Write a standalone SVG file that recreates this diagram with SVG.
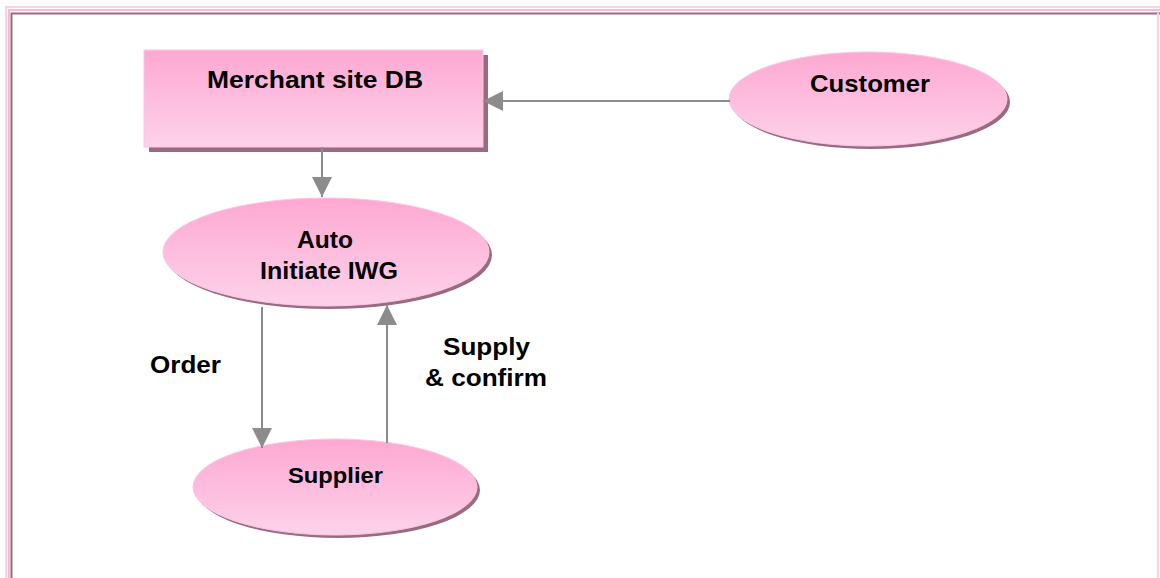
<svg xmlns="http://www.w3.org/2000/svg" width="1160" height="578" viewBox="0 0 1160 578">
<defs>
<linearGradient id="pk" x1="0" y1="0" x2="0" y2="1">
<stop offset="0" stop-color="#fda8d2"/>
<stop offset="1" stop-color="#fdd2ea"/>
</linearGradient>
<marker id="ah" markerWidth="20" markerHeight="20" refX="20" refY="10" orient="auto" markerUnits="userSpaceOnUse">
<path d="M0,0 L20,10 L0,20 Z" fill="#8c8c8c"/>
</marker>
<style>
.sh{fill:#9a6b80}
.nd{fill:url(#pk);stroke:#fcc6e0;stroke-width:1}
.lbl{font-family:"Liberation Sans",Arial,sans-serif;font-weight:bold;font-size:24px;fill:#000;text-anchor:middle}
.con{stroke:#8c8c8c;stroke-width:2;fill:none;marker-end:url(#ah)}
</style>
</defs>
<rect width="1160" height="578" fill="#ffffff"/>
<g id="frame">
<path d="M6,578 V7 H1160" fill="none" stroke="#fdd0e6" stroke-width="2"/>
<path d="M9,578 V10 H1160" fill="none" stroke="#fbb8d8" stroke-width="2"/>
<path d="M11.5,578 V13.5 H1160" fill="none" stroke="#9a6b80" stroke-width="2"/>
<line x1="1158" y1="13" x2="1158" y2="578" stroke="#fdd0e6" stroke-width="2"/>
</g>
<g id="merchant">
<rect class="sh" x="149" y="55" width="339" height="97"/>
<rect class="nd" x="144" y="50" width="339" height="97"/>
<text class="lbl" x="315" y="88" textLength="216" lengthAdjust="spacingAndGlyphs">Merchant site DB</text>
</g>
<g id="customer">
<ellipse class="sh" cx="871" cy="102" rx="139" ry="47"/>
<ellipse class="nd" cx="868" cy="99" rx="139" ry="47"/>
<text class="lbl" x="870" y="92" textLength="120" lengthAdjust="spacingAndGlyphs">Customer</text>
</g>
<g id="auto">
<ellipse class="sh" cx="329" cy="255" rx="163" ry="54"/>
<ellipse class="nd" cx="326" cy="252" rx="163" ry="54"/>
<text class="lbl" x="325" y="248" textLength="56" lengthAdjust="spacingAndGlyphs">Auto</text>
<text class="lbl" x="329" y="279" textLength="138" lengthAdjust="spacingAndGlyphs">Initiate IWG</text>
</g>
<g id="supplier">
<ellipse class="sh" cx="338" cy="490" rx="142" ry="48"/>
<ellipse class="nd" cx="335" cy="487" rx="142" ry="48"/>
<text class="lbl" x="335.5" y="483" style="font-size:22px" textLength="95" lengthAdjust="spacingAndGlyphs">Supplier</text>
</g>
<g id="connectors">
<line class="con" x1="730" y1="101" x2="483" y2="101"/>
<line class="con" x1="322" y1="147" x2="322" y2="197"/>
<line class="con" x1="262" y1="307" x2="262" y2="448"/>
<line class="con" x1="387" y1="443" x2="387" y2="305"/>
</g>
<g id="labels">
<text class="lbl" x="185.5" y="373" textLength="71" lengthAdjust="spacingAndGlyphs">Order</text>
<text class="lbl" x="486.5" y="355" textLength="87" lengthAdjust="spacingAndGlyphs">Supply</text>
<text class="lbl" x="486" y="386" textLength="122" lengthAdjust="spacingAndGlyphs">&amp; confirm</text>
</g>
</svg>
